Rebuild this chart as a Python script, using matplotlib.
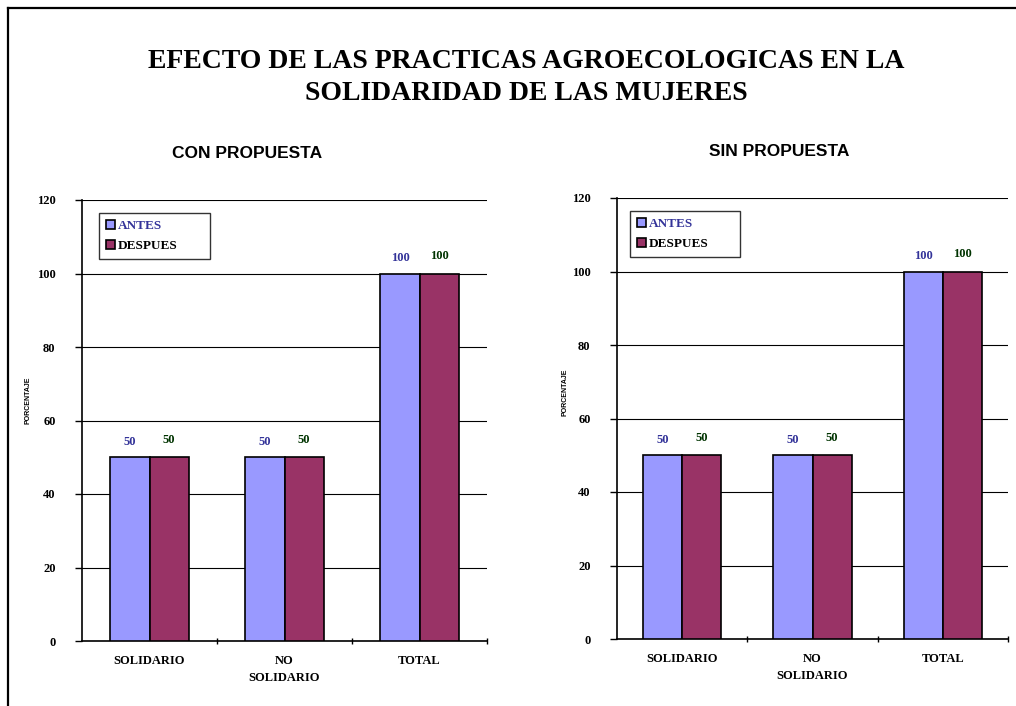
import matplotlib
matplotlib.use("Agg")
import matplotlib.pyplot as plt
from matplotlib.lines import Line2D
from matplotlib.patches import Patch
import numpy as np

categories = ["SOLIDARIO", "NO\nSOLIDARIO", "TOTAL"]
con_antes = [50, 50, 100]
con_despues = [50, 50, 100]
sin_antes = [50, 50, 100]
sin_despues = [50, 50, 100]
yticks = [0, 20, 40, 60, 80, 100, 120]
series_names = ["ANTES", "DESPUES"]

title = "EFECTO DE LAS PRACTICAS AGROECOLOGICAS EN LA\nSOLIDARIDAD DE LAS MUJERES"
sub_left = "CON PROPUESTA"
sub_right = "SIN PROPUESTA"
ylabel = "PORCENTAJE"

C_ANTES = "#9999FF"
C_DESP = "#993366"
LBL_ANTES = "#333399"
LBL_DESP = "#003300"
SERIF = "Liberation Serif"
SANS = "Liberation Sans"

fig = plt.figure(figsize=(10.16, 7.06), dpi=100)

# outer frame (left and top lines)
fig.add_artist(Line2D([8/1016, 8/1016], [0, 1-8/706], transform=fig.transFigure, color="black", lw=1.6))
fig.add_artist(Line2D([8/1016, 1], [1-8/706, 1-8/706], transform=fig.transFigure, color="black", lw=1.6))

fig.text(0.518, 1-62/706, title.split("\n")[0], ha="center", va="center",
         fontfamily=SERIF, fontweight="bold", fontsize=20)
fig.text(0.518, 1-93/706, title.split("\n")[1], ha="center", va="center",
         fontfamily=SERIF, fontweight="bold", fontsize=20)


def panel(rect, antes, desp, width, subtitle, sub_xy, ylab_xy, leg_anchor):
    ax = fig.add_axes(rect)
    x = np.arange(len(categories))
    ax.bar(x - width/2, antes, width, color=C_ANTES, edgecolor="black", lw=1.2, zorder=3)
    ax.bar(x + width/2, desp, width, color=C_DESP, edgecolor="black", lw=1.2, zorder=3)
    for xi, a, d in zip(x, antes, desp):
        ax.annotate(f"{a}", (xi - width/2, a), xytext=(0, 7), textcoords="offset points",
                    ha="center", va="bottom", fontfamily=SERIF, fontweight="bold",
                    fontsize=9, color=LBL_ANTES)
        ax.annotate(f"{d}", (xi + width/2, d), xytext=(0, 8), textcoords="offset points",
                    ha="center", va="bottom", fontfamily=SERIF, fontweight="bold",
                    fontsize=9, color=LBL_DESP)
    ax.set_xlim(-0.5, len(categories) - 0.5)
    ax.set_ylim(0, 120)
    ax.set_yticks(yticks)
    ax.set_yticklabels([str(t) for t in yticks], fontfamily=SERIF, fontweight="bold", fontsize=9)
    ax.yaxis.grid(True, color="black", lw=0.8, zorder=0)
    ax.set_axisbelow(True)
    ax.set_xticks(x)
    ax.set_xticklabels(categories, fontfamily=SERIF, fontweight="bold", fontsize=9,
                       linespacing=1.6, va="top")
    ax.set_xticks(np.arange(len(categories)) + 0.5, minor=True)
    ax.tick_params(axis="x", which="major", length=0, pad=10)
    ax.tick_params(axis="x", which="minor", length=4, direction="inout", width=1)
    ax.tick_params(axis="y", length=5, direction="out", width=1, pad=14)
    for s in ["top", "right"]:
        ax.spines[s].set_visible(False)
    for s in ["left", "bottom"]:
        ax.spines[s].set_linewidth(1.2)
    handles = [Patch(facecolor=C_ANTES, edgecolor="black", lw=1.2),
               Patch(facecolor=C_DESP, edgecolor="black", lw=1.2)]
    leg = ax.legend(handles, series_names, loc="upper left", bbox_to_anchor=leg_anchor,
                    mode="expand", frameon=True, fancybox=False, shadow=False,
                    handlelength=0.7, handleheight=0.7, handletextpad=0.2, borderpad=0.5,
                    labelspacing=0.6, prop={"family": SERIF, "weight": "bold", "size": 9.5},
                    borderaxespad=0)
    leg.get_frame().set_edgecolor("black")
    leg.get_frame().set_linewidth(1.0)
    leg.get_texts()[0].set_color(LBL_ANTES)
    leg.get_texts()[1].set_color("black")
    fig.text(sub_xy[0], sub_xy[1], subtitle, ha="center", va="center",
             fontfamily=SANS, fontweight="bold", fontsize=12.5)
    fig.text(ylab_xy[0], ylab_xy[1], ylabel, ha="center", va="center", rotation=90,
             fontfamily=SANS, fontweight="bold", fontsize=5)
    return ax


panel([82/1016, 1-641/706, 405/1016, 441/706], con_antes, con_despues, 0.29,
      sub_left, (247/1016, 1-153/706), (28/1016, 1-400/706), (0.042, 0.0, 0.274, 0.97))
panel([617/1016, 1-639/706, 391/1016, 441/706], sin_antes, sin_despues, 0.30,
      sub_right, (779/1016, 1-151/706), (565/1016, 1-392/706), (0.033, 0.0, 0.281, 0.97))

fig.savefig("out.png", dpi=100)
